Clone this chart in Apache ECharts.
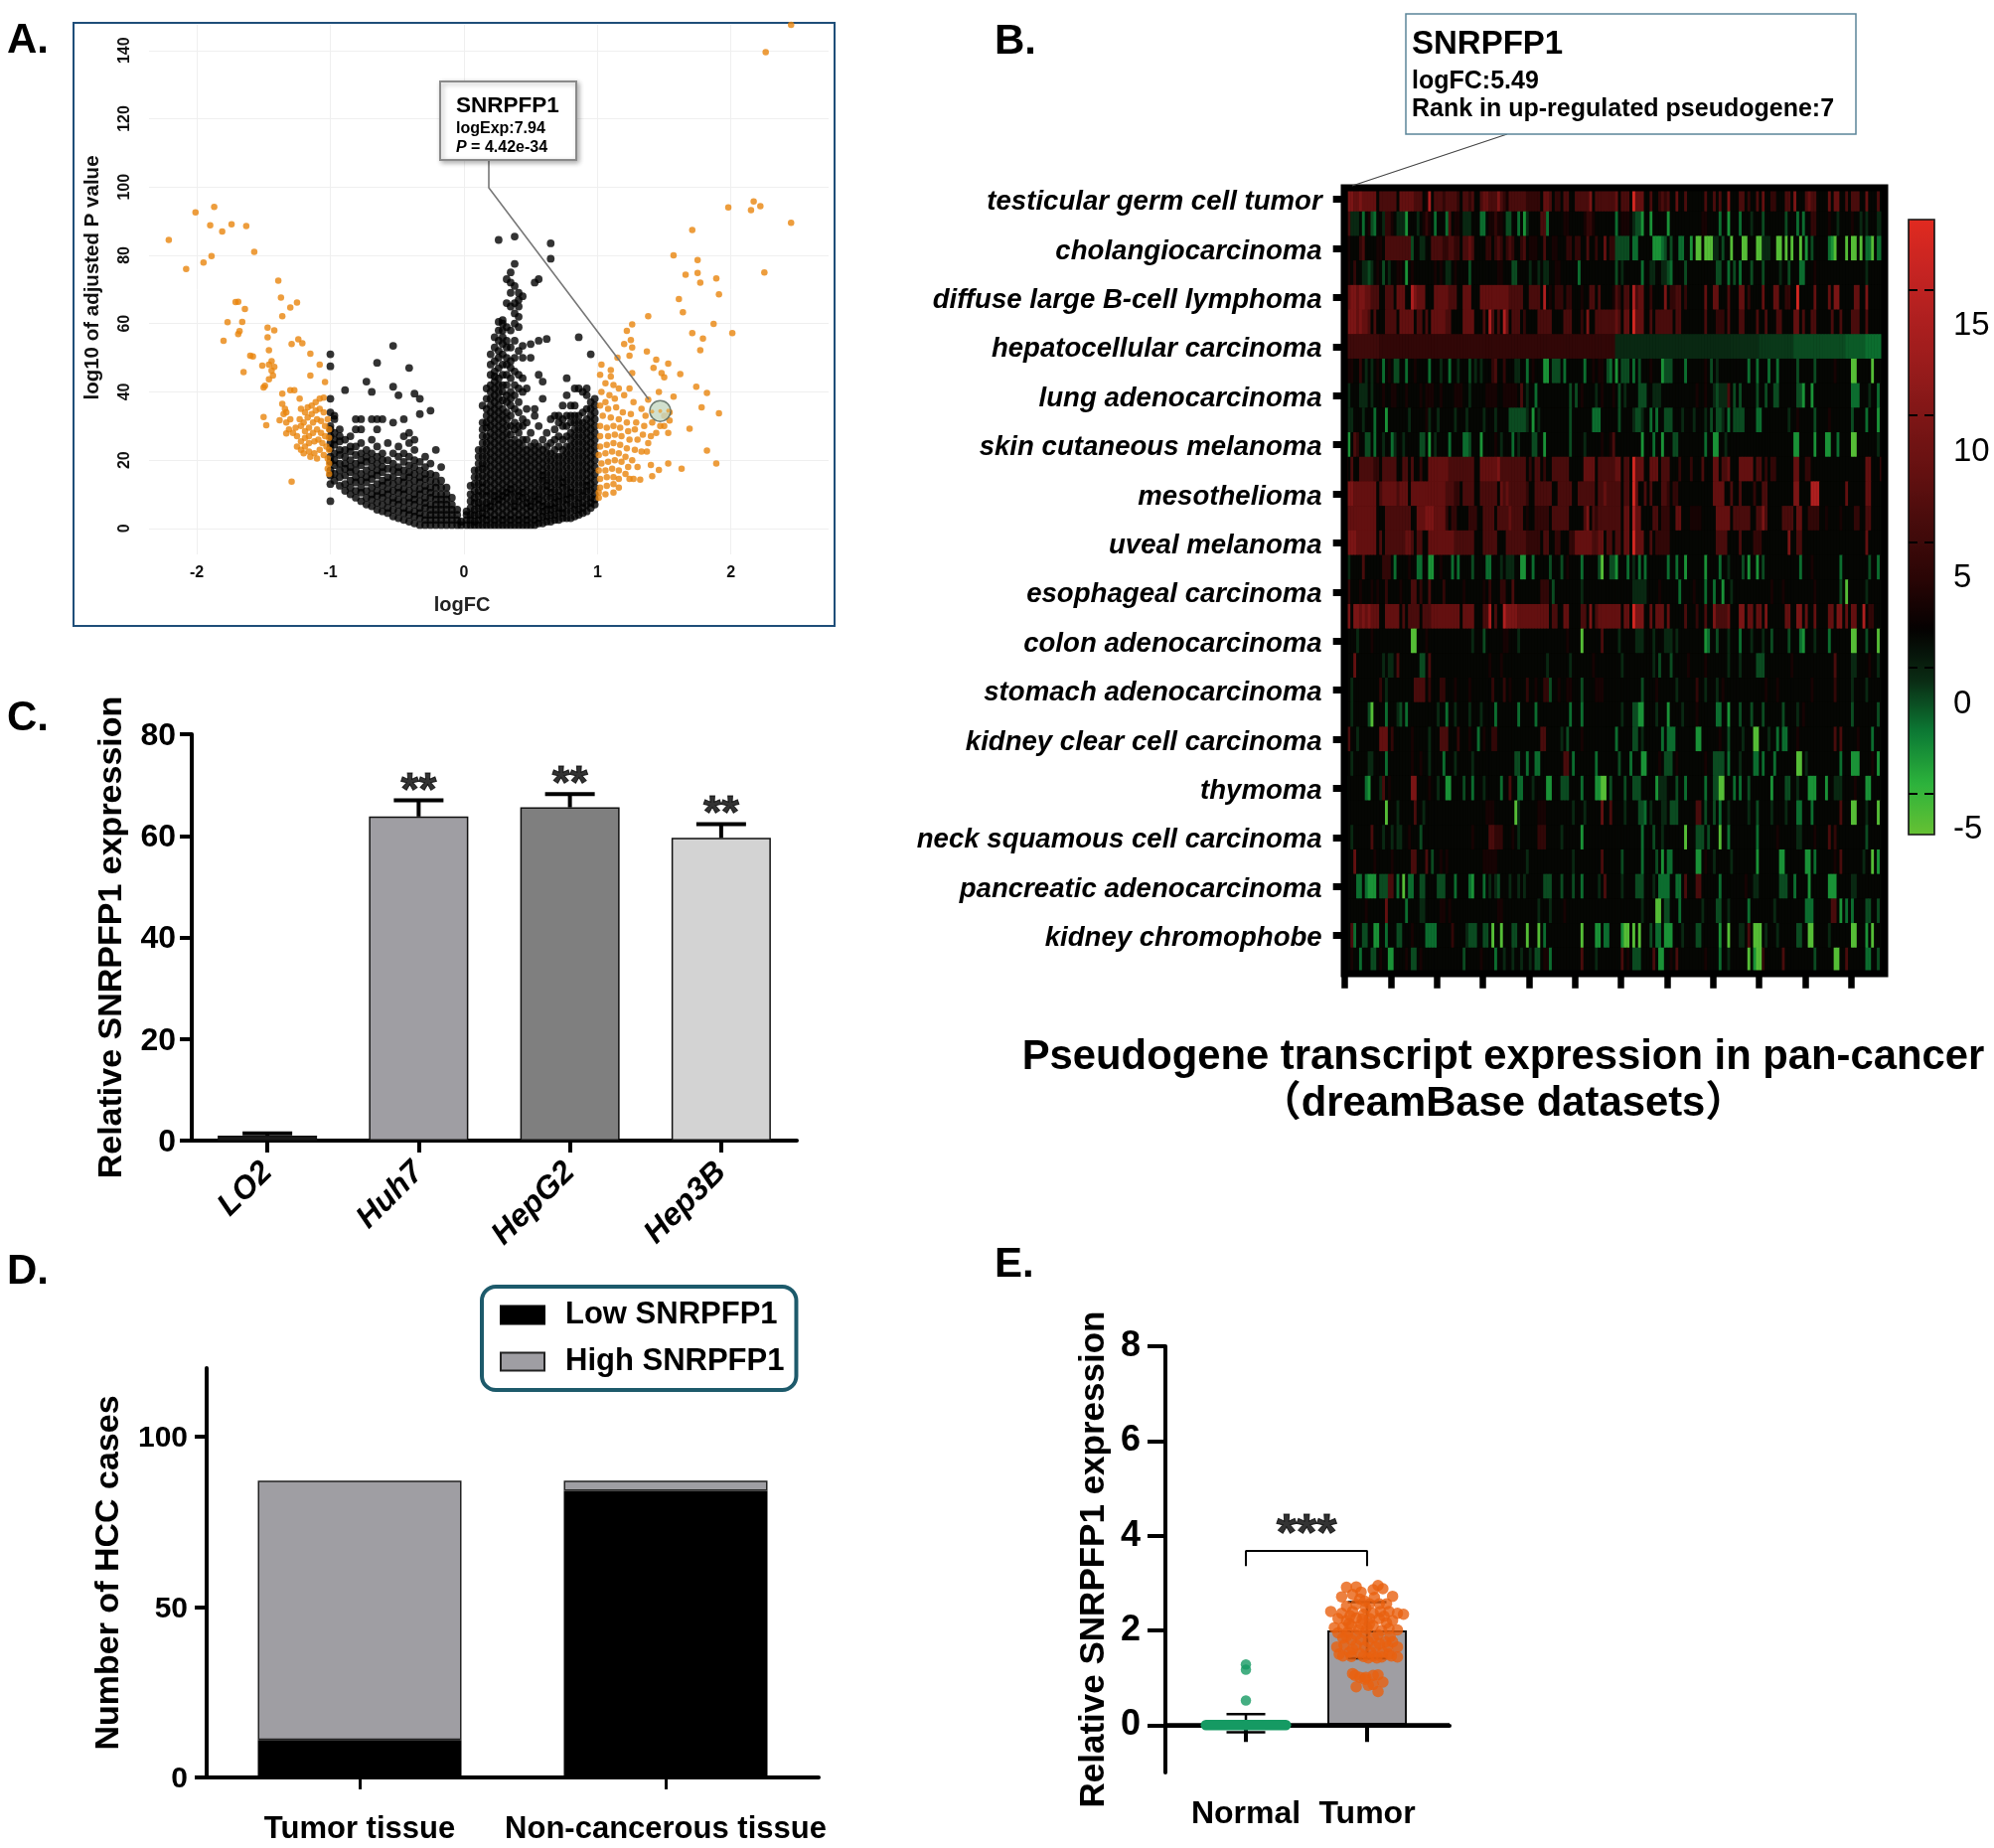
<!DOCTYPE html>
<html><head><meta charset="utf-8"><style>html,body{margin:0;padding:0;background:#fff}#c{width:2007px;height:1860px}</style>
<script src="https://cdn.jsdelivr.net/npm/echarts@6/dist/echarts.min.js"></script></head><body><div id="c"></div>
<script>
// ---------- Panel A: volcano (each row: logFC, then -log10 P values read at that logFC)
const volcanoBlackLeft = [
[-1.00,8,13,15.5,17,19.5,21,23.5,25,27,29,30,34,38,47.5,51],
[-0.97,14,16,18.5,20,22,24.5,26,28,33,32],
[-0.93,12.5,15,17,19,21.5,23,25.5,27,29],
[-0.89,11,13,15.5,17.5,19,21,23,26,40.5],
[-0.85,10,12,14,16.5,18,20,22.5,24,27],
[-0.81,9,11,13.5,15,17,19,21.5,24,29,32],
[-0.77,8,10.5,12,14,16,18.5,20,22,25,29,32],
[-0.73,7,9,11,13.5,15,17,19.5,21,23,43],
[-0.69,6.5,8.5,10,12,14.5,16,18,20,22,26,32,40],
[-0.65,5.5,7.5,9.5,11,13,15.5,17,19,21,24,29,32,48.5],
[-0.61,5,7,9,10.5,12.5,14,16.5,18,20,22,32],
[-0.57,4.5,6,8,10,11.5,13.5,15,17.5,20,25],
[-0.53,3.5,5.5,7.5,9,11,13,15,17,19,22,31,41.5,53.5],
[-0.49,3,5,7,8.5,10.5,12,14,16.5,18,21,24,39],
[-0.45,2.5,4.5,6,8,10,11.5,13.5,15,17,19.5,22,27,32],
[-0.41,2,4,5.5,7.5,9,11,13,15,16.5,18.5,21,25,28,47],
[-0.37,1.5,3.5,5,7,8.5,10,12,14,16,18,20,23,26,39.5],
[-0.33,1,3,4.5,6,8,10,11.5,13.5,15,17,19.5,33.5,38],
[-0.29,1,2.5,4,6,7.5,9,11,12.5,14.5,16,18,21],
[-0.25,1,2.5,4,5.5,7,9,10.5,12,14,16,19,34.5],
[-0.21,1,2.5,4,5.5,7,8.5,10,12,13.5,15.5,23],
[-0.17,1,2.5,4,5.5,7,8.5,10,12,14,18],
[-0.13,1,2.5,4,5.5,7,8.5,10,12],
[-0.09,1,2.5,4,5.5,7,9],
[-0.05,1,2.5,4,5.5],
[-0.02,1,2]
];
const volcanoBlackRight = [
[0.02,1,2.5,4,5],
[0.05,1,2.5,4,6,8,10,12.5],
[0.08,1,2,4,5.5,7.5,9,11,13,15,17],
[0.11,1,2.5,4,6,7.5,9.5,11,13,15,17,19,21,23],
[0.14,1,3,4.5,6,8,10,12,13.5,15.5,17.5,19,21,23,25,27,29,31,36],
[0.17,1,2.5,4,6,7.5,9.5,11,13,15,17,19,21,23,25,27,29.5,31,33,35,38,41],
[0.20,1,3,5,6.5,8,10,12,14,16,18,20,22,24,26,28,30,32,34,36,38,40,42,45,48,51],
[0.23,1,2.5,4,6,8,9.5,11,13,15,17,19,21,23,25,27,29,31,33,35,37,39,41,43,44.5,46,49,53,56],
[0.26,1,3,5,7,8.5,10,12,14,16,18,20,22,24,26,28,30,32,34,36,38,40,42,44,47,50,52,55,58,60.5,84.5],
[0.29,1,2.5,4,6,8,9.5,11,13,15,17,19,21,23,25,27,29,31,33,35,37.5,40,42,45,48,51,54,56,58,60,61],
[0.32,1,3,5,7,9,10.5,12,14,16,18,20,22,24,26,28,30,32,34,37,39,42,45,48,50,53,55,59,66,73],
[0.35,1,2.5,4,6,8,10,11.5,13,15,17,19,21,23,25,27.5,30,33,36,38,40,44,47,49,53,58,65,69,72,75],
[0.38,1,3,5,6.5,8,10,12,14,16,18,20,22,24,26,29,31,35,39,42,46,50,55,60,63,66,71,77.5,85.5],
[0.41,1,2.5,4,6,8,9.5,11,13,15,17,19,21,23,25,28,30,34,37,41,45,52,59,62,65,67,69],
[0.44,1,3,5,7,9,10.5,12,14,16,18,20,22,24,26,30,32,40,44,50,53.5,68],
[0.47,1,2.5,4,6,7.5,9,11,13,15,17,19,21,23,26,31,35,41],
[0.50,1,3,5,6.5,8,10,12,14,16,18,20,22,24,28,50,54],
[0.53,1,2.5,4,6,8,9.5,11,13,15,17,19,21,23,25,33,35,72],
[0.56,1.5,3,5,7,8.5,10,12,14,16,18,20,22,24,30,45,55,73],
[0.59,1.5,3.5,5,6.5,8,10,12,14,15.5,17,19,21,23,26,38,43],
[0.62,2,3.5,5.5,7,9,11,12.5,14,16,18,20,22,24,28,55.5],
[0.65,2,4,5.5,7,9,10.5,12,14,16,18,20,22,25,32,79,83.5],
[0.68,2.5,4,6,7.5,9,11,13,15,17,19,21,23,26,29,33],
[0.71,2.5,4.5,6,8,9.5,11,13,15,17,19,21,24,27,31,33],
[0.74,3,4.5,6,8,10,12,13.5,15,17,19,21,23,26,30,32,36],
[0.77,3,5,7,8.5,10,12,14,16,18,20,22,24,27,30,33,39,44],
[0.80,3,5,7,9,10.5,12,14,16,18,20,22,24,26,28,31,33,36],
[0.83,3.5,5.5,7,9,11,13,15,17,19,21,23,25,27,29,31,33,36,41],
[0.86,4,5.5,7.5,9,11,13,15,17,19,21,23,25,27,29,31,33,41,56],
[0.89,4.5,6,7.5,9.5,11,13,15,17,19,21,23,25,27,29,31,34,40],
[0.92,5,7,9,11,12.5,14,16,18,20,22,24,26,28,30,32,35,41,39],
[0.95,6,7.5,9,11,13,15,17,19,21,23,25,27,29,31,33,35,37,51],
[0.98,7,8.5,10,12,14,16,18,20,22,24,26,28,30,32,34,36,38]
];
const volcanoOrange = [
[-2.21,84.5],[-2.08,76],[-2.01,92.6],[-1.95,77.9],[-1.9,88.8],[-1.89,79.8],[-1.87,94.2],[-1.81,87],[-1.74,89.1],[-1.63,88.6],[-1.57,81],
[-1.39,72.6],[-1.37,67.6],[-1.25,66.2],[-1.3,64.7],[-1.36,62.2],[-1.71,66.3],[-1.69,66.4],[-1.64,64.3],[-1.77,60.4],[-1.66,60.5],[-1.69,56.9],[-1.68,57.8],[-1.8,55],
[-1.47,58.8],[-1.42,58],[-1.47,56],[-1.29,54],[-1.24,55.4],[-1.21,54.2],[-1.46,52.2],[-1.15,51.2],[-1.6,50.6],[-1.58,50.4],[-1.51,47.7],[-1.44,49],[-1.46,48],[-1.42,47.3],[-1.08,48],[-1.65,45.8],[-1.44,46.2],[-1.15,44.8],[-1.04,42.9],[-1.46,43.7],[-1.43,44.8],[-1.5,41.3],[-1.49,41.8],
[-1.3,40.5],[-1.27,40.5],[-1.36,39.5],[-1.23,38],[-1.36,36.5],[-1.34,35],[-1.35,33.5],[-1.33,34],[-1.38,31.7],[-1.5,32.6],[-1.48,30.2],[-1.33,31],[-1.3,32],[-1.31,29],[-1.33,27.8],[-1.28,28],[-1.26,29.5],[-1.29,13.7],
[-1.22,35],[-1.19,34],[-1.17,35.5],[-1.14,36],[-1.11,37],[-1.08,38],[-1.05,38.3],[-1.23,32],[-1.2,31],[-1.17,32.5],[-1.14,33.5],[-1.11,34.5],[-1.08,35],[-1.05,34],[-1.02,32],[-1.22,30],[-1.19,28.5],[-1.16,29.5],[-1.13,31],[-1.1,32],[-1.07,31.5],[-1.04,30],[-1.01,29],
[-1.25,27],[-1.22,25.5],[-1.19,26.5],[-1.16,27],[-1.13,28],[-1.1,29],[-1.07,28],[-1.04,27],[-1.01,26.5],[-1.25,24],[-1.22,23],[-1.19,24],[-1.16,25],[-1.12,25.5],[-1.09,26],[-1.06,25],[-1.03,24],[-1.01,23],[-1.2,22],[-1.16,22.5],[-1.12,22],[-1.08,23],[-1.05,21.5],[-1.02,20.5],[-1.01,19],[-1.02,17.5],[-1.01,16],[-1.15,21],[-1.1,20.5],
[2.45,147.5],[2.26,139.5],[1.98,94],[2.17,95.8],[2.15,93.2],[2.22,94.4],[2.45,89.5],[1.71,87.4],[1.57,80],[1.75,78.6],[2.25,75],[1.66,74.3],[1.75,74.8],[1.89,73.2],[1.77,72],[1.91,68.6],[1.61,67.2],[1.64,63.3],[1.38,62.2],[1.26,59.8],[1.87,59.9],[1.22,57.9],[1.71,57.2],[2.01,57.2],[1.79,55.6],[1.25,55.2],[1.2,54],[1.26,53],[1.77,52.2],[1.37,51.8],[1.24,50.6],[1.44,49.4],[1.15,50],[1.53,48.3],[1.03,48],[1.1,46.4],[1.48,45.5],[1.62,45.2],[1.26,45.5],[1.5,44.3],[1.02,45],[1.1,44.5],[1.74,41.5],[1.46,40],[1.82,39.7],[1.24,41],[1.57,38.6],[1.38,37.7],[1.78,35.5],[1.91,33.7],[1.54,31.6],[1.69,29.2],[1.82,22.8],[1.89,19],[1.63,17.5],[1.53,19],[1.4,18.6],[1.46,17.1],[1.41,15.3],[1.42,47],[1.5,30],[1.53,28],[1.5,33],[1.54,34],[1.47,30],
[1.12,42],[1.06,42.5],[1.16,41],[1.03,40],[1.09,39],[1.13,38],[1.06,37],[1.2,39],[1.27,37],[1.33,35],[1.36,33],[1.02,36],[1.08,35],[1.14,35.5],[1.19,34],[1.25,33.5],[1.04,33],[1.1,32.5],[1.16,32],[1.22,31],[1.29,31],[1.35,30],[1.41,31],[1.02,30],[1.07,29.5],[1.12,30],[1.17,29.5],[1.23,28.5],[1.28,29],[1.34,27.5],[1.4,27],[1.44,28],[1.02,27],[1.08,27],[1.13,27.5],[1.18,27],[1.24,26],[1.3,26],[1.38,25],[1.02,24],[1.07,24.5],[1.12,25],[1.17,24.5],[1.22,23.5],[1.28,23],[1.33,22.5],[1.37,22.5],[1.01,21.5],[1.06,22],[1.11,22.5],[1.16,22],[1.21,21],[1.26,20],[1.03,19],[1.08,19.5],[1.13,20],[1.18,19.5],[1.23,18],[1.3,18],[1.01,17],[1.06,17],[1.11,17.5],[1.16,17],[1.21,16],[1.02,14.5],[1.07,15],[1.12,15],[1.16,14.5],[1.24,14.5],[1.27,14.5],[1.32,14.3],[1.02,12],[1.07,12.5],[1.12,13],[1.16,12],[1.01,10.5],[1.06,10],[1.12,10.5],[1.01,9]
];
const volcanoHighlight = [[1.47,34.4]];
const volcanoHighlightDots = [[1.41,34.2],[1.47,34.4],[1.53,34.5]];
const volcanoXTicks = [-2,-1,0,1,2];
const volcanoYTicks = [0,20,40,60,80,100,120,140];

// ---------- Panel B: heatmap, one string per row, one letter per sample, read as groups of ten samples
const heatLabels = ['testicular germ cell tumor','cholangiocarcinoma','diffuse large B-cell lymphoma','hepatocellular carcinoma','lung adenocarcinoma','skin cutaneous melanoma','mesothelioma','uveal melanoma','esophageal carcinoma','colon adenocarcinoma','stomach adenocarcinoma','kidney clear cell carcinoma','thymoma','neck squamous cell carcinoma','pancreatic adenocarcinoma','kidney chromophobe'];
const heatLevels = {'.':2.6,a:3.8,b:5.4,n:6.4,c:7.2,d:9,e:11,f:15,g:18,u:1,k:0.8,l:0.5,v:0,r:-0.4,w:-0.9,x:-2.1,y:-4.7};
const heatRowsLeft = [
".eeddedddd d.cccccc.d ddddccc.af .cccbccccb .ccbc..cdd cccecbaccc cccbbbbb.d dc.bb.cc.. ccccce.ccc cccc",
".cuuu.w.av w..ubba.uu ux...u.aba .w...wc.aa .uuu...ww. aabaa.vv.. w.xu....cc w.....aa.. ...abba... ....",
"aa...bc... .aa.cccccc cccv..uu.. ccccbbccbb .ccdc....b b.bcb.bcb. .bc.aaa..c ..aa...bb. bb..c..b.. d.bb",
".a.b..uuvu .a.v.u..aa .x.a...... .a.a.uu.a. ...v...... ...aa...vv ....u..u.u u..aa..... .w........ ....",
".deedeeddc cc..ccc.dd d..feddd.. .dddddccc. .ddd...ddd dddddddccc cc..cccc.f .a.bbb.bb. ..a..cc.c. ...a",
".eeededdc. c...cccc.d dddd.cc.c. dddddcc... .dddd...c. fc.c.fd.cc c.b....ccc cc....ccc. ..b.e..ccc cccc",
"nnnnnnnnnn nnbbbbbbbb bbbbbbbbbb bbbbbbbbbb bbbbbbbbbb bbbbbbbbbb bbbbbbbbbb bbbbbbbbbb bbbbbbbbbb bbbb",
".aa..b.u.u .a.w.a.vv. .w..a....w ...u..w..u ...v.u.u.. .bc..b...u u..w.a...x x.vvv.w... ...w..a.aa .vw.",
".u...uuu.u ...a..aa.. .a....a.aa a..a....aa a..u.....a aaa..aaaaa .c.u..w... ........v. v.a....u.a ...a",
"auu...u... w...x..... ..u.....au ..u.....u. ..u.....u. ..u....vvv vvvu.x.u.. ........v. ......www. ....",
".x.cb..vv. w..u..wu.. u.....vv.x .u....w... .wwv...x.. ..a.u...w. u....vv..x ........v. ...u.....a ..ac",
"d.c..ccccc bb.ccccc.. cc.c..b..d ddddddcccc ccccc..ddd dddecccccc ccc.b.cc.b ..cccccc.. ...dddd.cc cccc",
"eeeddddddd d.cdddddcd dd.ddddddd dddddcccbb .cccc..ccc ccc.dcdccc cccb..cccc cc..ccccc. .cccccc.cc dccc",
"dddddddddd d...cccccc ccc..dddee eddddb.bb. ...bbb..cc cc.ccccdcc cc.a..bbbb b.cccccc.. ...ce.cbcc cccc",
".eeedddddd d.c.cccccc cddc.cc..d ddddddddcc ccccc...cc ccc...cccc cccbbbbb.c c..bb...bb ddddddccdd .cc.",
".u....c... ...bbb.w.. ..a..ww..x x..a...w.w ....v....w w...u.uuu. .xx..w.... .v...v.a.. ..w.....vy ..vv",
".b...a...a .a..b....a ...cc.b..c ....b..... .a......a. b...bb..c. ........bb b.v....... ..u....... ....",
"ee.eededed dd..ddddd. c.cccc.ccc dddddddddd .dddd...cc f.c..feeee dddddddddd d.cc..dd.. ..cc.e.cdd dddd",
"....u....a .......... ...yy...a. .......... ....u...v. .....aa... u......... .......a.. ..y......c ....",
"...d...... ...u.uu.c. ......vv.c .......... .......... a...a..... .......... u.......u. ......a... ....",
"..u....... ..b.u..... ....cccc.b ...bb...a. ...a...... .b...b.a.. ...b..a..b bv..a..aa. ..v....aaa ....",
"..u.....vy ....w...uv .w........ ..u..w..u. ...u...u.. ..w....... w.....w... ........w. ..w....... ....",
".c..u..... ..ddd.b... ...a.....u ...ccc...b ...a..w.a. .bb....... ........cc .....u.v.. ..a....... ....",
"..u.....uu ....w..... ...a..a..u ....w...u. ....u..... .........v v..w..ww.. ......cc.w .......w.. ....",
"u......wx. ..uc.a.... ...ee....a ..u..xx... .v..w...u. ....w..c.. ww...u.... xx...vvv.. ..w....xxy y.v.",
".......... ....y...u. ....c..u.. .......... .........a aa.......y u......aaa .........u ...u.....d ..c.",
"..u......c ...u..u.uu ..a...v... .......... ....a..... ccbbb...a. u......bbb .....u.... ..x....... ....",
"...d...... a.....a... ...cc...c. v..a.a.... ........aa aaa....... ...u...... .........u .........c ....",
"....ww.wxx x.vvvcc.w. y.ww..vv.. ..vvv...w. ...wx...w. u.uv...u.. u.u......v vv...v...v ..w.....u. c...",
".......a.. ....d..... .w....uu.. ...aa.a... .......... ...aa..... .......u.. .u....a... .......... ....",
"..cw..vv.. xx..w...vv ...a....ww ww.....b.. ..uvvv..vv .y..y...vv ...y...y.w .......... ..y....xx. ww..",
"..a..w...v v.a..xx... .a.vv.a... .......... .v.....a.. ..w..u..u. .u..u.vv.a aw........ ..c....u.. ...."
];
const heatRowsRight = [
"d.ccc.gddd ..c..bcbc. .d..c..... .c..c.c..e ...cc.b..c .d..bb...c c.e...cdcc ....d.dd.. c.ccc..d.. .c..",
"w.aaa.uvvx ..x.....x. .......... aa....w..x ...w...u.. .v.......v ...w.w..bb ....a..u.. ..a..u.u.. .uu.",
"vvvvv.ww.. ...xxxwv.v ..ww..x.yy .yyyuu.v.. y...yy...y yuuu..yy.y .y..y.x.v. ....wxy... y.yy.y.wwy .ww.",
"v.u......w ..uu..uuvw ....v..... .....vv..w .v.w...v.. .v.....u.. v...ww...a .......... .......u.. ....",
"cb.cc.fcdd ..b....e.b bcc.b..... .d..dd...c ...dd.b... .d...dd..b b..g.....d ....d.ee.. ...dd..e.. ....",
"dc.dd.gddd ..c.cccccc .cc....... .c...bbb.c ...cc....c ..c...cc.. ..dd.c..cc .....c..c. ..ccc..c.. ....",
"uuuuuuuuuu uuuuuuuuuu uuuuuuuuuu uuuuuuuuuu kkkkkkkkkk llllllllll llvvvvvvvv vvvvvvvvvv rrrrrrrwww www.",
"x.vvv.w.v. ..a...xvvv ....w..... .a.v.u.... ......w..w ...w..w... ...v.....v ......a... ..yy.....y ....",
".v.u....vv v..uuu.... ........a. .a..uvuuuc .v.v.....v ..v..vv... ...vvx..x. .......... ..www...u. .w..",
".v....uvvu ..w.w..vvv ...u...u.. .u.v.vvu.w .vvvv....w w......... u..a.....v ....a..... ..v....w.. .x..",
".........x ...w..x... vv........ .w..xx..u. .......... .......... ..xx.....x ...xx..w.. ..yy...... .u..",
"dd.cc.gddd ..ddd.ccc. ..b...b... c...dd.ccd ...ddddd.c c.b.bb.... ..dd..bb.. .......... .......dd. ..b.",
"cc.cc.gd.. c.c...ccb. bb........ ....dddd.. c..c....b. .cc....... ..ee....ff f......... d......dd. ....",
"cc.dd.fdd. ...cc.bbb. .dd...aaaa .....ddddd .cccccc..c cec.....cc cc.dd..bbb b..a....a. ...bb..cc. ....",
"cc.dd.gddd ..c.bbbbb. .......... .....cccc. ...c....bb b......... e..cc..... .......... .......d.. ....",
"x...w.u.w. w.......w. .w..x..... .x....w..u ....v.x..x .v........ ....w...a. ........w. ........v. .w..",
"......uuuu u....a.... ..w....a.. .w..w..x.. u......... ....a...a. .........a ........v. y......u.. ....",
"dd.dd.geee ..d.ddd.d. ....c...b. .c..eccccd ...ee.dd.d d.e......d d..ee.d..d ....dd.ee. d.dd..f.bb ....",
".u.....uuu ...u...uuu .u........ .xw..v...u ...w...u.. .u..v..... v...wx...u ....w..... ..yy...v.. .y..",
"..u....... ...u.v...v .....a.... .a.......u ...u.....v vv........ .a........ ......c... ..uu....a. .u..",
".........v ....a..... .u......b. .u...u.a.. .......... ..a...a... ........a. ......b... ..u....u.. ....",
"..u...vvxx ....u...x. ...u....a. .....ww..x ...v...v.. .v......v. ...u.a.... .......... ..v....... .v..",
"w.....vv.u ......w.ww w.......xx ......a..v ....u...yy ...u..w.ww ...a...... ......c.c. ....a....w ....",
".v...w...x x....a.vvv .a........ .a..vvvv.w ...u....ww .w...w.... ...yy.u... ........w. ..xxx....a .x..",
"...v..vvv. ....xuuu.. .v..w..... .w..vvyy.. .w.w..v... ....x....v v..u...xxx ...x..uuu. ...a...xx. ....",
"...u....vv w.u...uu.v vv......cc .v..v.w..u ......u..v ....u....u ...ww...w. ........c. ..yy...u.. .y..",
".........w ...v..u... ....y...vv v.v...y..w .........w ......a... ...uu....a ....c.b... .......v.. ....",
"..v......w ....v.x.ww ........xx .a..u..... u........x .......xx. ......xx.w ......a.c. ......u..y .x..",
"..u....vvv ...u.wwww. .ww.c...cc ......w... .....a..uu .......vvv ..w....x.. ....xxx... ..uu...... ....",
".........u ....yy.vv. ..w....... u....vv..u ......w... .....u.... ......www. .....cc.x. w.w....vv. .v..",
"..xyy.y.y. ..v.ww.xxx ...u....vv ......x..y ...uu.c.yy y.u...u... ...vv..yy. ....u..... ..yy...x.y ....",
"..c.a.vvv. ...c.xx..a .c........ .a....w..u ......y.xy yb......c. .........v ......yy.. c......ww. .v.."
];
const heatColumns = 188;
const heatRowTicks = [0,2,4,6,8,10,12,14,16,18,20,22,24,26,28,30];
const heatColumnTicks = [0,16,32,48,64,80,96,112,128,144,160,176];
const colorStops = ['#66c133','#2cb23c','#0c7a34','#0a2c14','#040101','#2a0505','#450b0b','#621010','#7a1515','#951b1b','#ad1f1f','#c62422','#e02a20'];
const colorMin = -5.3, colorMax = 19.1;
const colorLabels = [-5,0,5,10,15];

// ---------- Panel C
const lineCats = ['LO2','Huh7','HepG2','Hep3B'];
const lineMeans = [1,63.8,65.6,59.6];
const lineErrHi = [1.4,67,68.2,62.3];
const lineColors = ['#1c1c1c','#9f9ea3','#7f7f7f','#d3d3d3'];
const lineStars = [null,68.6,69.9,64.1];

// ---------- Panel D
const tissueCats = ['Tumor tissue','Non-cancerous tissue'];
const lowCounts = [11,84];
const highCounts = [76,3];
const tissueTicks = [0,50,100];

// ---------- Panel E
const groupNames = ['Normal','Tumor'];
const groupMeans = [[1,0.03],[2,2]];
const groupErr = [[1,0.03,0.23,-0.15],[2,2,2.6,1.41]];
const normalBand = [[0.67,0],[1.33,0]];
const normalDots = [[1,1.28],[1,1.17],[1,0.52]];
const tumorDots = [[1.83,2.91],[1.91,2.92],[2.09,2.95],[2.05,2.86],[2.13,2.88],[1.95,2.81],[1.79,2.71],[1.88,2.76],[2.21,2.72],[1.94,2.66],[2.06,2.7],[2.16,2.56],[2.1,2.56],[1.91,2.55],[1.83,2.51],[1.7,2.4],[1.79,2.36],[1.88,2.4],[1.99,2.47],[2.05,2.36],[2.11,2.4],[2.18,2.4],[2.25,2.36],[2.3,2.34],[1.76,2.25],[1.83,2.21],[1.91,2.26],[2.02,2.25],[2.1,2.25],[2.21,2.21],[1.73,2.06],[1.8,2.06],[1.87,2.1],[1.95,2.13],[2.05,2.1],[2.18,2.04],[2.25,2.01],[1.76,1.95],[1.84,1.96],[1.91,1.91],[1.98,1.95],[2.09,1.91],[2.19,1.87],[1.8,1.84],[1.87,1.8],[2.01,1.76],[2.21,1.76],[1.75,1.65],[1.81,1.69],[1.91,1.69],[1.98,1.65],[2.07,1.65],[2.17,1.66],[2.25,1.65],[1.77,1.5],[1.855,1.54],[1.94,1.51],[2.03,1.54],[2.13,1.54],[2.18,1.5],[1.8,1.46],[2.01,1.42],[2.05,1.46],[2.2,1.46],[2.25,1.44],[1.88,1.09],[1.94,1.01],[1.99,1.01],[2.05,1.05],[2.09,1.06],[1.91,0.81],[2.01,0.84],[2.05,0.86],[2.13,0.91],[2.09,0.71],[1.98,0.97],[1.9,1.05],
[1.86,2.31],[1.97,2.34],[2.02,2.56],[1.98,2.62],[2.14,2.3],[2.16,2.16],[2.02,2.14],[1.96,2.24],[1.85,2.14],[1.93,2.02],[2.0,2.04],[2.12,2.0],[1.83,1.88],[2.05,1.85],[2.15,1.76],[1.95,1.8],[1.88,1.6],[2.1,1.72],[2.12,1.44],[1.97,1.45],[1.87,1.45],[2.08,1.42]];
const bracket = [[1,3.36],[1,3.68],[2,3.68],[2,3.36]];
const zeroLine = [[0.336,0],[2.68,0]];
const groupTicks = [0,2,4,6,8];

// ---------- build
const F = '"Liberation Sans",Arial,sans-serif';
const flat = rows => rows.flatMap(r => r.slice(1).map(y => [r[0], y]));
const fitGroups = s => s.split(' ').map((g, i) => g.padEnd(i === 9 ? 4 : 10, '.').slice(0, i === 9 ? 4 : 10)).join('');
const heatData = [];
heatRowsLeft.forEach((s, r) => {
  const t = fitGroups(s) + fitGroups(heatRowsRight[r]);
  for (let c = 0; c < heatColumns; c++) heatData.push([c, r, heatLevels[t[c]] ?? 2.6]);
});
const errorBar = (xi, yi, cap, lw, upOnly, z) => ({
  type: 'custom', xAxisIndex: xi, yAxisIndex: yi, z, clip: false, silent: true,
  renderItem(p, api) {
    const x = api.value(0), m = api.value(1), hi = api.value(2), lo = api.value(3);
    const a = api.coord([x, hi]), b = api.coord([x, upOnly ? m : lo]);
    const s = { stroke: '#000', lineWidth: lw };
    const kids = [
      { type: 'line', shape: { x1: a[0], y1: a[1], x2: b[0], y2: b[1] }, style: s },
      { type: 'line', shape: { x1: a[0] - cap / 2, y1: a[1], x2: a[0] + cap / 2, y2: a[1] }, style: s }
    ];
    if (!upOnly) kids.push({ type: 'line', shape: { x1: b[0] - cap / 2, y1: b[1], x2: b[0] + cap / 2, y2: b[1] }, style: s });
    return { type: 'group', children: kids };
  }
});
const hiddenVal = (gi) => ({ type: 'value', gridIndex: gi, show: false, min: 0, max: 1 });
const ink = w => ({ show: true, lineStyle: { color: '#000', width: w } });

const grids = [
  { left: 150, top: 25, width: 684, height: 533 },
  { left: 1353.7, top: 188.3, width: 544.3, height: 790.4, show: true, backgroundColor: '#000', borderWidth: 0 },
  { left: 1921, top: 221, width: 26, height: 619 },
  { left: 193, top: 739, width: 609, height: 409 },
  { left: 208, top: 1377, width: 616, height: 412 },
  { left: 1173, top: 1355, width: 286, height: 429 }
];
const xAxes = [
  { type: 'value', gridIndex: 0, min: -2.358, max: 2.731, name: 'logFC', nameLocation: 'middle', nameGap: 41,
    nameTextStyle: { fontFamily: F, fontWeight: 'bold', fontSize: 20, color: '#222', padding: [0, 54, 0, 0] },
    axisLine: { show: false }, axisTick: { show: false, customValues: volcanoXTicks },
    axisLabel: { customValues: volcanoXTicks, margin: 11, fontFamily: F, fontWeight: 'bold', fontSize: 16, color: '#111' },
    splitLine: { show: true, lineStyle: { color: '#efefef', width: 1 } } },
  { type: 'category', gridIndex: 1, data: Array.from({ length: heatColumns }, (_, i) => i), show: false },
  { type: 'value', gridIndex: 1, min: 0, max: heatColumns, position: 'bottom', offset: 4, axisLine: { show: false },
    axisTick: { show: true, customValues: heatColumnTicks, length: 12, lineStyle: { color: '#000', width: 6.5 } },
    axisLabel: { show: false }, splitLine: { show: false } },
  hiddenVal(2),
  { type: 'category', gridIndex: 3, data: lineCats, axisLine: ink(4), axisTick: { ...ink(4), length: 12, alignWithLabel: true },
    axisLabel: { rotate: 45, margin: 27, interval: 0, fontFamily: F, fontWeight: 'bold', fontStyle: 'italic', fontSize: 32, color: '#000' } },
  { type: 'category', gridIndex: 4, data: tissueCats, axisLine: ink(4), axisTick: { ...ink(3), length: 12, alignWithLabel: true },
    axisLabel: { margin: 37, interval: 0, fontFamily: F, fontWeight: 'bold', fontSize: 31, color: '#000' } },
  { type: 'value', gridIndex: 5, min: 0.336, max: 2.68, axisLine: ink(4), axisTick: { ...ink(4), length: 17, customValues: [1, 2] },
    axisLabel: { customValues: [1, 2], formatter: v => groupNames[v - 1], margin: 26, fontFamily: F, fontWeight: 'bold', fontSize: 32, color: '#000' },
    splitLine: { show: false } }
];
const yAxes = [
  { type: 'value', gridIndex: 0, min: -7.6, max: 147.5, name: 'log10 of adjusted P value', nameLocation: 'middle', nameGap: 46,
    nameTextStyle: { fontFamily: F, fontWeight: 'bold', fontSize: 20.5, color: '#111', padding: [0, 0, 0, 24] },
    axisLine: { show: false }, axisTick: { show: false, customValues: volcanoYTicks },
    axisLabel: { customValues: volcanoYTicks, rotate: 90, margin: 16, fontFamily: F, fontWeight: 'bold', fontSize: 16, color: '#111' },
    splitLine: { show: true, lineStyle: { color: '#efefef', width: 1 } } },
  { type: 'category', gridIndex: 1, inverse: true, offset: 4, data: heatRowsLeft.map((_, i) => i), axisLine: { show: false },
    axisTick: { show: true, alignWithLabel: true, customValues: heatRowTicks, length: 12, lineStyle: { color: '#000', width: 7 } },
    axisLabel: { interval: 0, margin: 19, verticalAlign: 'top', lineHeight: 6, formatter: (v, i) => (i % 2 ? '' : heatLabels[i / 2]), fontFamily: F, fontWeight: 'bold', fontStyle: 'italic', fontSize: 27.6, color: '#000' } },
  { type: 'value', gridIndex: 2, position: 'right', min: colorMin, max: colorMax, z: 10, axisLine: { show: false }, axisTick: { show: false },
    axisLabel: { customValues: colorLabels, margin: 19, align: 'left', verticalAlign: 'top', lineHeight: 6, fontFamily: F, fontSize: 33, color: '#000' }, splitLine: { show: false } },
  { type: 'value', gridIndex: 3, min: 0, max: 80, interval: 20, name: 'Relative SNRPFP1 expression', nameLocation: 'middle', nameGap: 63,
    nameTextStyle: { fontFamily: F, fontWeight: 'bold', fontSize: 34, color: '#000' },
    axisLine: ink(4), axisTick: { ...ink(4), length: 12 },
    axisLabel: { margin: 16, verticalAlign: 'top', lineHeight: 4, fontFamily: F, fontWeight: 'bold', fontSize: 32, color: '#000' }, splitLine: { show: false } },
  { type: 'value', gridIndex: 4, min: 0, max: 120, name: 'Number of HCC cases', nameLocation: 'middle', nameGap: 81,
    nameTextStyle: { fontFamily: F, fontWeight: 'bold', fontSize: 34, color: '#000' },
    axisLine: ink(4), axisTick: { ...ink(4), length: 12, customValues: tissueTicks },
    axisLabel: { customValues: tissueTicks, margin: 19, verticalAlign: 'top', lineHeight: 4, fontFamily: F, fontWeight: 'bold', fontSize: 30, color: '#000' }, splitLine: { show: false } },
  { type: 'value', gridIndex: 5, min: -1, max: 8, name: 'Relative SNRPFP1 expression', nameLocation: 'middle', nameGap: 54,
    nameTextStyle: { fontFamily: F, fontWeight: 'bold', fontSize: 35, color: '#000' },
    axisLine: ink(4), axisTick: { ...ink(4), length: 18, customValues: groupTicks },
    axisLabel: { customValues: groupTicks, margin: 25, fontFamily: F, fontWeight: 'bold', fontSize: 36, color: '#000' }, splitLine: { show: false } }
];

const starSeries = (xi, yi, data, text, size) => ({
  type: 'scatter', xAxisIndex: xi, yAxisIndex: yi, data, symbolSize: 1, silent: true, z: 6,
  itemStyle: { color: 'rgba(0,0,0,0)' },
  label: { show: true, position: 'inside', formatter: text, fontFamily: F, fontWeight: 'bold', fontSize: size, color: '#000', textBorderColor: '#000', textBorderWidth: 1 }
});

const series = [
  { type: 'scatter', xAxisIndex: 0, yAxisIndex: 0, data: flat(volcanoBlackLeft).concat(flat(volcanoBlackRight)), symbolSize: 7.8, itemStyle: { color: '#000' }, silent: true },
  { type: 'scatter', xAxisIndex: 0, yAxisIndex: 0, data: volcanoOrange, symbolSize: 6.5, itemStyle: { color: '#e9850c' }, silent: true, z: 3 },
  { type: 'scatter', xAxisIndex: 0, yAxisIndex: 0, data: volcanoHighlight, symbolSize: 21, itemStyle: { color: '#c6d8c2', borderColor: '#4f5f55', borderWidth: 1.5 }, silent: true, z: 4 },
  { type: 'scatter', xAxisIndex: 0, yAxisIndex: 0, data: volcanoHighlightDots, symbolSize: 4, itemStyle: { color: '#e7a33b' }, silent: true, z: 5 },
  { type: 'heatmap', xAxisIndex: 1, yAxisIndex: 1, data: heatData, progressive: 0, silent: true, itemStyle: { borderWidth: 0 }, emphasis: { disabled: true } },
  { type: 'bar', xAxisIndex: 4, yAxisIndex: 3, barWidth: 100, silent: true,
    data: lineMeans.map((v, i) => ({ value: v, itemStyle: { color: lineColors[i], borderColor: '#111', borderWidth: 1.5 } })) },
  { ...errorBar(4, 3, 50, 4, true, 4), data: lineMeans.map((m, i) => [i, m, lineErrHi[i], m]), encode: { x: 0, y: [1, 2, 3] } },
  starSeries(4, 3, lineStars.map((v, i) => [i, v]).filter(d => d[1] !== null), '**', 46),
  { name: 'Low SNRPFP1', type: 'bar', stack: 'd', xAxisIndex: 5, yAxisIndex: 4, barWidth: 205, data: lowCounts, silent: true, itemStyle: { color: '#000', borderColor: '#000', borderWidth: 1.5 } },
  { name: 'High SNRPFP1', type: 'bar', stack: 'd', xAxisIndex: 5, yAxisIndex: 4, barWidth: 205, data: highCounts, silent: true, itemStyle: { color: '#9f9ea3', borderColor: '#222', borderWidth: 1.5 } },
  { type: 'bar', xAxisIndex: 6, yAxisIndex: 5, barWidth: 80, data: groupMeans, silent: true, z: 2, itemStyle: { color: '#9f9ea3', borderColor: '#111', borderWidth: 2 } },
  { type: 'line', xAxisIndex: 6, yAxisIndex: 5, data: zeroLine, showSymbol: false, silent: true, z: 3, lineStyle: { color: '#000', width: 4 } },
  { ...errorBar(6, 5, 39, 2.5, false, 4), data: groupErr, encode: { x: 0, y: [1, 2, 3] } },
  { type: 'line', xAxisIndex: 6, yAxisIndex: 5, data: normalBand, showSymbol: false, silent: true, z: 9, lineStyle: { color: '#159a63', width: 10.5, cap: 'round' } },
  { type: 'scatter', xAxisIndex: 6, yAxisIndex: 5, data: normalDots, symbolSize: 10.5, silent: true, z: 5, itemStyle: { color: '#159a63' } },
  { type: 'scatter', xAxisIndex: 6, yAxisIndex: 5, data: tumorDots, symbolSize: 11.5, silent: true, z: 5, itemStyle: { color: '#e8600f' } },
  { type: 'line', xAxisIndex: 6, yAxisIndex: 5, data: bracket, showSymbol: false, silent: true, lineStyle: { color: '#000', width: 2 }, z: 5 },
  starSeries(6, 5, [[1.5, 3.99]], '***', 52)
];

const txt = (x, y, text, font, extra = {}) => ({ type: 'text', x, y, z: 60, style: { text, font, fill: '#000', ...extra } });
const boldF = s => `bold ${s}px "Liberation Sans"`;
const dash = y => ({ type: 'line', z: 46, shape: { x1: 1921, y1: y, x2: 1947, y2: y }, style: { stroke: '#000', lineWidth: 2, lineDash: [9, 7] } });
const graphic = [
  { type: 'rect', z: -1, shape: { x: 74, y: 23, width: 766, height: 607 }, style: { fill: '#fff', stroke: '#1f4e79', lineWidth: 2 } },
  txt(7, 20, 'A.', boldF(42)), txt(1001, 21, 'B.', boldF(42)), txt(7, 702, 'C.', boldF(42)), txt(7, 1259, 'D.', boldF(42)), txt(1001, 1252, 'E.', boldF(42)),
  { type: 'polyline', z: 50, shape: { points: [[492, 162], [492, 189], [653, 402]] }, style: { stroke: '#777', lineWidth: 1.6, fill: null } },
  { type: 'rect', z: 51, shape: { x: 443, y: 82, width: 137, height: 79 }, style: { fill: '#fff', stroke: '#8a8a8a', lineWidth: 2, shadowBlur: 5, shadowOffsetX: 2, shadowOffsetY: 2, shadowColor: 'rgba(0,0,0,.3)' } },
  txt(459, 95, 'SNRPFP1', boldF(22.5)),
  txt(459, 122, 'logExp:7.94', boldF(16)),
  { type: 'text', x: 459, y: 141, z: 60, style: { text: '{i|P} = 4.42e-34', font: boldF(16), fill: '#000', rich: { i: { font: 'italic ' + boldF(16), fill: '#000' } } } },
  { type: 'line', z: 50, shape: { x1: 1517, y1: 135, x2: 1361, y2: 187 }, style: { stroke: '#444', lineWidth: 1.3 } },
  { type: 'rect', z: 51, shape: { x: 1415, y: 14, width: 453, height: 121 }, style: { fill: '#fff', stroke: '#5b8599', lineWidth: 1.5 } },
  txt(1421, 28, 'SNRPFP1', boldF(33)),
  txt(1421, 70, 'logFC:5.49', boldF(25)),
  txt(1421, 98, 'Rank in up-regulated pseudogene:7', boldF(25)),
  { type: 'rect', z: 45, shape: { x: 1353, y: 189, width: 544, height: 791 }, style: { fill: null, stroke: '#000', lineWidth: 7 } },
  { type: 'rect', z: 45, shape: { x: 1921, y: 221, width: 26, height: 619 }, style: { fill: null, stroke: '#111', lineWidth: 1.6 } },
  dash(292), dash(418), dash(546), dash(672), dash(799),
  txt(1513, 1043, 'Pseudogene transcript expression in pan-cancer', boldF(41.8), { textAlign: 'center' }),
  txt(1513, 1091, '（dreamBase datasets）', '700 41.8px "Liberation Sans","Noto Sans CJK SC"', { textAlign: 'center' })
];

const chart = echarts.init(document.getElementById('c'), null, { renderer: 'canvas', width: 2007, height: 1860 });
chart.setOption({
  animation: false, backgroundColor: '#fff', textStyle: { fontFamily: F },
  grid: grids, xAxis: xAxes, yAxis: yAxes, series, graphic,
  visualMap: { type: 'continuous', seriesIndex: 4, min: colorMin, max: colorMax, calculable: false, hoverLink: false, itemWidth: 26, itemHeight: 619, left: 1921, top: 221, padding: 0, text: null, showLabel: false, inRange: { color: colorStops }, textStyle: { fontSize: 0 } },
  legend: { data: ['Low SNRPFP1', 'High SNRPFP1'], orient: 'vertical', left: 485, top: 1295, itemWidth: 44, itemHeight: 18, itemGap: 16, padding: [13, 12, 13, 18], borderColor: '#1d5a6b', borderWidth: 4, borderRadius: 14, selectedMode: false, textStyle: { fontFamily: F, fontWeight: 'bold', fontSize: 31, color: '#000', padding: [0, 0, 0, 16] }, icon: 'rect' }
});
</script></body></html>
